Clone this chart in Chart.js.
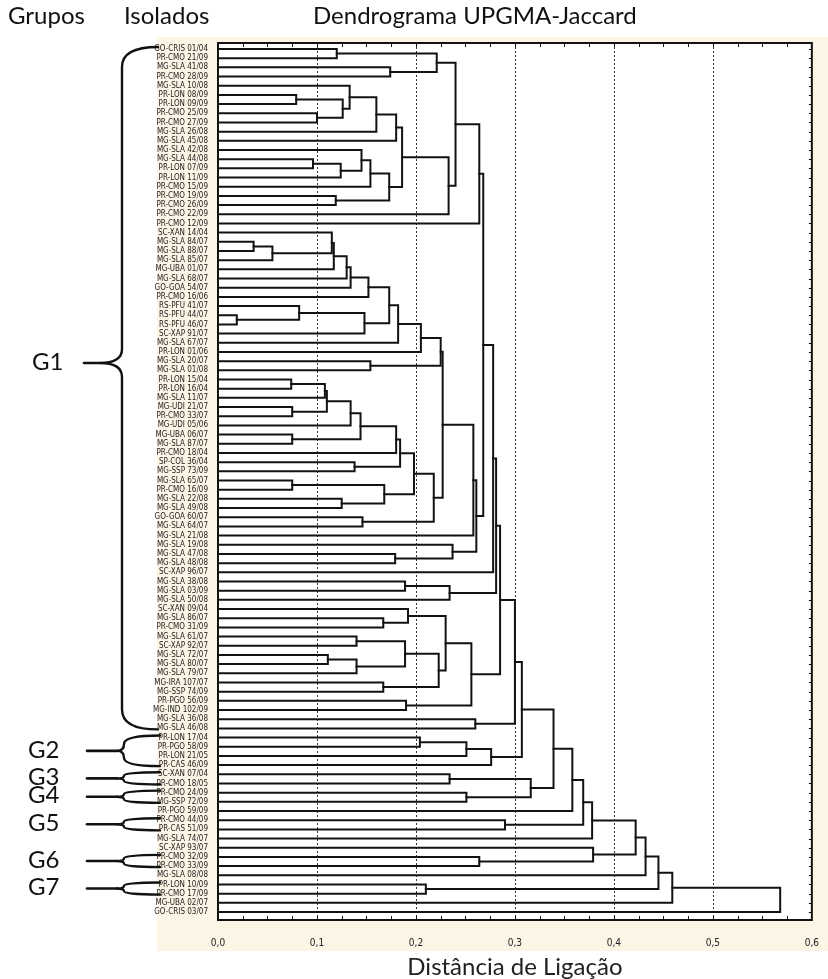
<!DOCTYPE html>
<html>
<head>
<meta charset="utf-8">
<script src="https://cdn.jsdelivr.net/npm/chart.js@4.4.1/dist/chart.umd.min.js"></script>
<style>
  html, body { margin: 0; padding: 0; background: #ffffff; }
  canvas { display: block; }
</style>
</head>
<body>
<canvas id="chart" width="828" height="979"></canvas>
<script>
// ---------------- DATA ----------------
const leafLabels = [
  'GO-CRIS 01/04','PR-CMO 21/09','MG-SLA 41/08','PR-CMO 28/09','MG-SLA 10/08',
  'PR-LON 08/09','PR-LON 09/09','PR-CMO 25/09','PR-CMO 27/09','MG-SLA 26/08',
  'MG-SLA 45/08','MG-SLA 42/08','MG-SLA 44/08','PR-LON 07/09','PR-LON 11/09',
  'PR-CMO 15/09','PR-CMO 19/09','PR-CMO 26/09','PR-CMO 22/09','PR-CMO 12/09',
  'SC-XAN 14/04','MG-SLA 84/07','MG-SLA 88/07','MG-SLA 85/07','MG-UBA 01/07',
  'MG-SLA 68/07','GO-GOA 54/07','PR-CMO 16/06','RS-PFU 41/07','RS-PFU 44/07',
  'RS-PFU 46/07','SC-XAP 91/07','MG-SLA 67/07','PR-LON 01/06','MG-SLA 20/07',
  'MG-SLA 01/08','PR-LON 15/04','PR-LON 16/04','MG-SLA 11/07','MG-UDI 21/07',
  'PR-CMO 33/07','MG-UDI 05/06','MG-UBA 06/07','MG-SLA 87/07','PR-CMO 18/04',
  'SP-COL 36/04','MG-SSP 73/09','MG-SLA 65/07','PR-CMO 16/09','MG-SLA 22/08',
  'MG-SLA 49/08','GO-GOA 60/07','MG-SLA 64/07','MG-SLA 21/08','MG-SLA 19/08',
  'MG-SLA 47/08','MG-SLA 48/08','SC-XAP 96/07','MG-SLA 38/08','MG-SLA 03/09',
  'MG-SLA 50/08','SC-XAN 09/04','MG-SLA 86/07','PR-CMO 31/09','MG-SLA 61/07',
  'SC-XAP 92/07','MG-SLA 72/07','MG-SLA 80/07','MG-SLA 79/07','MG-IRA 107/07',
  'MG-SSP 74/09','PR-PGO 56/09','MG-IND 102/09','MG-SLA 36/08','MG-SLA 46/08',
  'PR-LON 17/04','PR-PGO 58/09','PR-LON 21/05','PR-CAS 46/09','SC-XAN 07/04',
  'PR-CMO 18/05','PR-CMO 24/09','MG-SSP 72/09','PR-PGO 59/09','PR-CMO 44/09',
  'PR-CAS 51/09','MG-SLA 74/07','SC-XAP 93/07','PR-CMO 32/09','PR-CMO 33/09',
  'MG-SLA 08/08','PR-LON 10/09','PR-CMO 17/09','MG-UBA 02/07','GO-CRIS 03/07'
];

// Linkage: numbers = leaf position (1-based, top to bottom), 'mK' = merge number K
const linkA = [
  6, 8, 'm0', 5, 'm3', 'm4', 13, 'm6', 12, 'm8',
  17, 'm9', 'm5', 'm12', 1, 3, 'm14', 'm16', 'm17', 22,
  'm19', 21, 'm21', 'm22', 'm23', 'm24', 30, 29, 'm27', 'm25',
  'm29', 'm30', 35, 'm31', 37, 'm34', 40, 'm35', 'm37', 43,
  'm38', 'm40', 46, 'm41', 48, 50, 'm44', 'm43', 52, 'm47',
  'm33', 'm50', 56, 55, 'm51', 'm18', 'm55', 59, 'm57', 'm56',
  63, 62, 65, 67, 'm63', 'm62', 70, 'm65', 'm61', 72,
  'm68', 'm59', 74, 'm71', 76, 'm74', 'm75', 'm73', 80, 82,
  'm78', 'm77', 'm81', 85, 'm82', 'm84', 89, 88, 'm85', 'm88',
  92, 'm89', 'm91', 'm92'
];
const linkB = [
  7, 9, 'm1', 'm2', 10, 11, 14, 15, 'm7', 16,
  18, 'm10', 'm11', 19, 2, 4, 'm15', 'm13', 20, 23,
  24, 'm20', 25, 26, 27, 28, 31, 'm26', 32, 'm28',
  33, 34, 36, 'm32', 38, 39, 41, 'm36', 42, 44,
  'm39', 45, 47, 'm42', 49, 51, 'm45', 'm46', 53, 'm48',
  'm49', 54, 57, 'm52', 'm53', 'm54', 58, 60, 61, 'm58',
  64, 'm60', 66, 68, 69, 'm64', 71, 'm66', 'm67', 73,
  'm69', 'm70', 75, 'm72', 77, 78, 79, 'm76', 81, 83,
  'm79', 'm80', 84, 86, 'm83', 87, 90, 'm86', 'm87', 91,
  93, 'm90', 94, 95
];
const linkHeight = [
  0.079, 0.100, 0.126, 0.133, 0.160, 0.180, 0.096, 0.124, 0.145, 0.154,
  0.119, 0.173, 0.186, 0.233, 0.120, 0.174, 0.221, 0.240, 0.264, 0.036,
  0.055, 0.115, 0.117, 0.130, 0.134, 0.152, 0.019, 0.082, 0.148, 0.173,
  0.182, 0.205, 0.154, 0.225, 0.074, 0.108, 0.075, 0.110, 0.134, 0.075,
  0.144, 0.180, 0.138, 0.184, 0.075, 0.125, 0.168, 0.198, 0.146, 0.218,
  0.227, 0.258, 0.179, 0.237, 0.261, 0.268, 0.278, 0.189, 0.234, 0.281,
  0.167, 0.192, 0.140, 0.111, 0.140, 0.189, 0.167, 0.223, 0.230, 0.190,
  0.256, 0.285, 0.260, 0.300, 0.204, 0.251, 0.276, 0.307, 0.234, 0.251,
  0.316, 0.339, 0.358, 0.290, 0.369, 0.378, 0.264, 0.379, 0.422, 0.432,
  0.210, 0.445, 0.459, 0.568
];

const groupNames     = ['G1', 'G2', 'G3', 'G4', 'G5', 'G6', 'G7'];
const groupFirstLeaf = [1, 76, 80, 82, 85, 89, 92];
const groupLastLeaf  = [75, 79, 81, 83, 86, 90, 93];

const headerTexts = ['Grupos', 'Isolados', 'Dendrograma UPGMA-Jaccard'];
const axisTitle = 'Dist\u00e2ncia de Liga\u00e7\u00e3o';
const distanceMin = 0, distanceMax = 0.6, distanceStep = 0.1;

// ---------------- BUILD ----------------
function pickNarrow() {
  const c = document.createElement('canvas').getContext('2d');
  c.font = '20px "Liberation Sans Narrow", monospace';
  const w1 = c.measureText('GO-CRIS 01/04').width;
  c.font = '20px monospace';
  const w2 = c.measureText('GO-CRIS 01/04').width;
  return Math.abs(w1 - w2) > 1 ? { family: '"Liberation Sans Narrow"', size: 9 }
                               : { family: '"DejaVu Sans Condensed"', size: 8 };
}
const narrow = pickNarrow();

const nodeY = {}, nodeH = {};
function ref(k) {
  return typeof k === 'number' ? { y: k, h: 0 } : { y: nodeY[k], h: nodeH[k] };
}
const datasets = [];
linkHeight.forEach((h, i) => {
  const a = ref(linkA[i]), b = ref(linkB[i]);
  nodeY['m' + i] = (a.y + b.y) / 2;
  nodeH['m' + i] = h;
  datasets.push({
    data: [{ x: a.h, y: a.y }, { x: h, y: a.y }, { x: h, y: b.y }, { x: b.h, y: b.y }],
    borderColor: '#121212',
    borderWidth: 2,
    pointRadius: 0,
    pointHoverRadius: 0,
    fill: false,
    tension: 0,
    borderJoinStyle: 'miter',
    borderCapStyle: 'square'
  });
});

const nLeaves = leafLabels.length;

const decor = {
  id: 'decor',
  beforeDraw(chart) {
    const { ctx, chartArea: ca } = chart;
    ctx.save();
    ctx.fillStyle = '#ffffff';
    ctx.fillRect(0, 0, chart.width, chart.height);
    ctx.fillStyle = '#fcf5e5';
    ctx.fillRect(157, 37, chart.width - 157, 914);
    ctx.fillStyle = '#ffffff';
    ctx.fillRect(ca.left, ca.top, ca.right - ca.left, ca.bottom - ca.top);
    ctx.restore();
  },
  beforeDatasetsDraw(chart) {
    const { ctx, chartArea: ca } = chart;
    const xs = chart.scales.x;
    ctx.save();
    ctx.strokeStyle = '#333';
    ctx.lineWidth = 1;
    ctx.setLineDash([2, 2]);
    xs.ticks.forEach(t => {
      if (t.value <= distanceMin + 1e-9 || t.value >= distanceMax - 1e-9) return;
      const px = Math.round(xs.getPixelForValue(t.value)) + 0.5;
      ctx.beginPath();
      ctx.moveTo(px, ca.top);
      ctx.lineTo(px, ca.bottom);
      ctx.stroke();
    });
    ctx.restore();
  },
  afterDatasetsDraw(chart) {
    const { ctx, chartArea: ca } = chart;
    const xs = chart.scales.x, ys = chart.scales.y;
    ctx.save();
    ctx.strokeStyle = '#111';
    ctx.lineWidth = 1;
    for (let k = 1; k < 24; k++) {
      const px = Math.round(xs.getPixelForValue(k * 0.025)) + 0.5;
      ctx.beginPath();
      ctx.moveTo(px, ca.top); ctx.lineTo(px, ca.top + 4);
      ctx.moveTo(px, ca.bottom); ctx.lineTo(px, ca.bottom - 4);
      ctx.stroke();
    }
    for (let r = 1; r <= nLeaves; r++) {
      const py = Math.round(ys.getPixelForValue(r)) + 0.5;
      ctx.beginPath();
      ctx.moveTo(ca.right, py); ctx.lineTo(ca.right - 3, py);
      ctx.stroke();
    }
    ctx.lineWidth = 2;
    ctx.strokeRect(ca.left, ca.top, ca.right - ca.left, ca.bottom - ca.top);
    ctx.restore();
  },
  afterDraw(chart) {
    const { ctx } = chart;
    const ys = chart.scales.y;
    ctx.save();
    ctx.fillStyle = '#111';
    ctx.textBaseline = 'middle';
    ctx.font = '24px Lato';
    const hx = [8, 124, 313];
    headerTexts.forEach((t, i) => ctx.fillText(t, hx[i], 16));

    ctx.strokeStyle = '#111';
    ctx.lineCap = 'round';
    groupNames.forEach((g, i) => {
      const yTop = ys.getPixelForValue(groupFirstLeaf[i]) - 2;
      const yBot = ys.getPixelForValue(groupLastLeaf[i]) + 1;
      const big = i === 0;
      const yTip = big ? yTop + (yBot - yTop) * 0.463 : (yTop + yBot) / 2;
      const xEnd = big ? 158 : 160;
      const xSpine = big ? 122 : 124;
      const xTip = big ? 100 : 117;
      const half = (yBot - yTop) / 2;
      const rEnd = big ? 20 : Math.min(9, half * 0.55);
      const rMid = big ? 14 : Math.min(8, half * 0.45);
      ctx.lineWidth = 2.4;
      ctx.beginPath();
      ctx.moveTo(xEnd, yTop);
      ctx.quadraticCurveTo(xSpine, yTop, xSpine, yTop + rEnd);
      ctx.lineTo(xSpine, yTip - rMid);
      ctx.quadraticCurveTo(xSpine, yTip, xTip, yTip);
      ctx.moveTo(xTip, yTip);
      ctx.quadraticCurveTo(xSpine, yTip, xSpine, yTip + rMid);
      ctx.lineTo(xSpine, yBot - rEnd);
      ctx.quadraticCurveTo(xSpine, yBot, xEnd, yBot);
      ctx.stroke();
      ctx.lineWidth = 2.6;
      ctx.beginPath();
      ctx.moveTo(big ? 84 : 87, yTip);
      ctx.lineTo(xTip, yTip);
      ctx.stroke();
      ctx.fillStyle = '#111';
      ctx.font = '24px Lato';
      ctx.textBaseline = 'middle';
      ctx.fillText(g, big ? 32 : 28, yTip - 1);
    });
    ctx.restore();
  }
};

new Chart(document.getElementById('chart'), {
  type: 'line',
  data: { datasets },
  options: {
    responsive: false,
    devicePixelRatio: 1,
    animation: false,
    events: [],
    layout: { padding: { top: 43, right: 10, left: 0, bottom: 0 } },
    plugins: { legend: { display: false }, tooltip: { enabled: false } },
    scales: {
      x: {
        type: 'linear',
        position: 'bottom',
        min: distanceMin,
        max: distanceMax,
        grid: { display: false },
        border: { display: false },
        ticks: {
          stepSize: distanceStep,
          color: '#222',
          padding: 9,
          font: { family: narrow.family, size: narrow.size + 2 },
          callback: v => (Math.round(v * 10) / 10).toFixed(1).replace('.', ',')
        },
        title: {
          display: true,
          text: axisTitle,
          color: '#222',
          font: { family: 'Lato', size: 24, lineHeight: 1 },
          padding: { top: 0, bottom: 0 }
        },
        afterFit: s => { s.height = 59; }
      },
      y: {
        type: 'linear',
        reverse: true,
        min: 0.3465,
        max: 95.871,
        grid: { display: false },
        border: { display: false },
        afterBuildTicks: s => { s.ticks = leafLabels.map((_, i) => ({ value: i + 1 })); },
        ticks: {
          autoSkip: false,
          color: '#222',
          padding: 2,
          font: { family: narrow.family, size: narrow.size },
          callback: v => leafLabels[Math.round(v) - 1] || ''
        },
        afterFit: s => { s.width = 218; }
      }
    }
  },
  plugins: [decor]
});
</script>
</body>
</html>
